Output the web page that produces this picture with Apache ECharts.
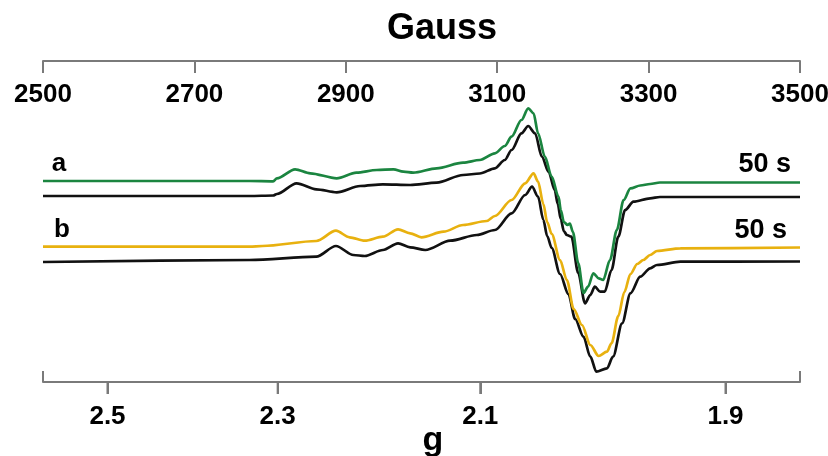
<!DOCTYPE html>
<html>
<head>
<meta charset="utf-8">
<script src="https://cdn.jsdelivr.net/npm/echarts@6/dist/echarts.min.js"></script>
<style>
  html, body { margin: 0; padding: 0; background: #fff; }
  #chart { width: 828px; height: 456px; }
</style>
</head>
<body>
<div id="chart"></div>
<script>
// field range (Gauss) and tick labels
const fieldMin = 2500;
const fieldMax = 3500;
const fieldStep = 200;
const gTicks = [2.5, 2.3, 2.1, 1.9];
// g * B product (Gauss), i.e. h*nu/muB for ~9.05 GHz
const gB = 6463;

// traces: [field (G), intensity (arb.)]
const traceA = [
  [2500, 201], [2773, 201], [2804, 200.7], [2809, 203.7], [2833, 212.7], [2853, 208.7],
  [2888, 203.7], [2914, 209.3], [2941, 212], [2963, 212.7], [2976, 210.3], [2989, 209.3],
  [3020, 213.7], [3055, 219.3], [3077, 222], [3097, 228.7], [3110, 236], [3119, 245.3],
  [3132, 262], [3141, 273.7], [3148, 268.7], [3154, 248.7], [3163, 225.3], [3172, 205.3],
  [3181, 185.3], [3184, 172], [3188, 160], [3193, 157], [3196, 158.5], [3200, 150],
  [3207, 119], [3214, 89], [3220, 95.3], [3227, 108.7], [3234, 103.7], [3240, 102],
  [3249, 122], [3258, 152], [3267, 182], [3276, 193.7], [3289, 196.5], [3302, 198],
  [3315, 199.5], [3500, 199.5]
];
const refA = [
  [2500, 186], [2773, 186], [2804, 186.5], [2809, 188], [2835, 198.7], [2861, 192.7],
  [2888, 189.7], [2919, 196], [2949, 197.7], [2985, 197], [3020, 199.3], [3055, 207],
  [3077, 208.5], [3097, 213.7], [3110, 222], [3119, 232], [3132, 248.7], [3141, 256],
  [3150, 248.7], [3159, 225.3], [3168, 210], [3176, 192], [3180, 178], [3184, 163],
  [3188, 151], [3192, 147], [3198, 145.3], [3207, 109], [3216, 78.7], [3223, 87],
  [3229, 95.3], [3236, 90.3], [3242, 90.3], [3251, 112], [3260, 145.3], [3269, 172],
  [3280, 180.3], [3302, 183.7], [3315, 185], [3500, 185]
];
const traceB = [
  [2500, 135.3], [2773, 135.3], [2790, 136], [2861, 141], [2887, 151.3], [2905, 144.7],
  [2925, 141.3], [2949, 145.3], [2969, 152.7], [2985, 148.7], [3000, 144.7], [3029, 150.3],
  [3055, 157], [3086, 161], [3097, 166], [3119, 182], [3137, 198.7], [3148, 208.7],
  [3154, 200.3], [3161, 178], [3166, 160], [3172, 148], [3183, 122], [3192, 102],
  [3201, 73], [3212, 57], [3223, 37], [3234, 26], [3245, 30.3], [3251, 38.7],
  [3260, 66], [3268, 90], [3276, 108], [3285, 118], [3293, 122], [3302, 127],
  [3311, 131], [3342, 133.7], [3500, 134.5]
];
const refB = [
  [2500, 120], [2773, 122], [2861, 125.3], [2887, 136], [2910, 127], [2925, 126],
  [2949, 132], [2969, 138.7], [2985, 134.7], [3005, 132], [3038, 141.3], [3073, 147],
  [3097, 152], [3119, 168.7], [3137, 187], [3146, 195.3], [3154, 185.3], [3161, 162],
  [3166, 146], [3172, 134], [3183, 108], [3194, 88], [3203, 63], [3214, 45.3],
  [3223, 25.3], [3231, 10.3], [3245, 13.7], [3253, 25.3], [3265, 58.7], [3276, 88.7],
  [3289, 105.3], [3302, 113.7], [3311, 117], [3342, 120.3], [3500, 120.5]
];

const axisGray = "#7a7a7a";
const font = "Liberation Sans, Arial, sans-serif";
const gridBox = { left: 43, right: 28, top: 61, bottom: 74, outerBoundsMode: "none" };
const gTickFields = gTicks.map((g) => gB / g);

function line(data, color) {
  return {
    type: "line",
    data: data,
    xAxisIndex: 0,
    yAxisIndex: 0,
    showSymbol: false,
    smooth: 0.3,
    smoothMonotone: "x",
    lineStyle: { color: color, width: 2.7 },
    z: color === "#111" ? 2 : 3,
  };
}

function label(text, pos, align) {
  return {
    type: "text",
    x: pos[0],
    y: pos[1],
    style: {
      text: text,
      font: "bold " + pos[2] + "px " + font,
      fill: "#000",
      align: align,
      verticalAlign: "middle",
    },
  };
}

const chart = echarts.init(document.getElementById("chart"));
chart.setOption({
  animation: false,
  grid: [gridBox, Object.assign({}, gridBox)],
  xAxis: [
    {
      // top field axis
      gridIndex: 0,
      type: "value",
      position: "top",
      min: fieldMin,
      max: fieldMax,
      interval: fieldStep,
      axisLine: { onZero: false, lineStyle: { color: axisGray, width: 2 } },
      axisTick: { inside: true, length: 12, lineStyle: { color: axisGray, width: 2 } },
      axisLabel: {
        inside: true,
        margin: 21,
        formatter: (v) => String(v),
        fontFamily: font,
        fontWeight: "bold",
        fontSize: 26,
        color: "#000",
      },
      splitLine: { show: false },
    },
    {
      // bottom g axis
      gridIndex: 0,
      type: "value",
      position: "bottom",
      min: fieldMin,
      max: fieldMax,
      axisLine: { onZero: false, lineStyle: { color: axisGray, width: 2 } },
      axisTick: {
        show: true,
        length: 12,
        customValues: gTickFields,
        lineStyle: { color: axisGray, width: 2 },
      },
      axisLabel: {
        margin: 22,
        customValues: gTickFields,
        formatter: (v) => (gB / v).toFixed(1),
        fontFamily: font,
        fontWeight: "bold",
        fontSize: 26,
        color: "#000",
      },
      splitLine: { show: false },
    },
    {
      // end marks on the bottom axis
      gridIndex: 1,
      type: "value",
      position: "bottom",
      min: fieldMin,
      max: fieldMax,
      interval: fieldMax - fieldMin,
      axisLine: { show: false, onZero: false },
      axisTick: { inside: true, length: 11, lineStyle: { color: axisGray, width: 2 } },
      axisLabel: { show: false },
      splitLine: { show: false },
    },
  ],
  yAxis: [
    { gridIndex: 0, type: "value", min: 0, max: 321, show: false },
    { gridIndex: 1, type: "value", min: 0, max: 321, show: false },
  ],
  series: [
    line(refA, "#111"),
    line(traceA, "#1b8540"),
    line(refB, "#111"),
    line(traceB, "#e8b10f"),
    {
      // g ticks hanging below the bottom axis line
      type: "custom",
      xAxisIndex: 0,
      yAxisIndex: 0,
      clip: false,
      silent: true,
      z: 10,
      data: gTickFields.map((b) => [b, 0]),
      renderItem: (params, api) => {
        const p = api.coord([api.value(0), api.value(1)]);
        return {
          type: "line",
          shape: { x1: p[0], y1: p[1], x2: p[0], y2: p[1] + 12 },
          style: { stroke: axisGray, lineWidth: 2 },
        };
      },
    },
  ],
  graphic: [
    label("Gauss", [442, 29, 36], "center"),
    label("g", [433, 441, 34], "center"),
    label("a", [59, 164, 26], "center"),
    label("b", [62, 230, 26], "center"),
    label("50 s", [791, 165, 27], "right"),
    label("50 s", [787, 231, 27], "right"),
  ],
});
</script>
</body>
</html>
